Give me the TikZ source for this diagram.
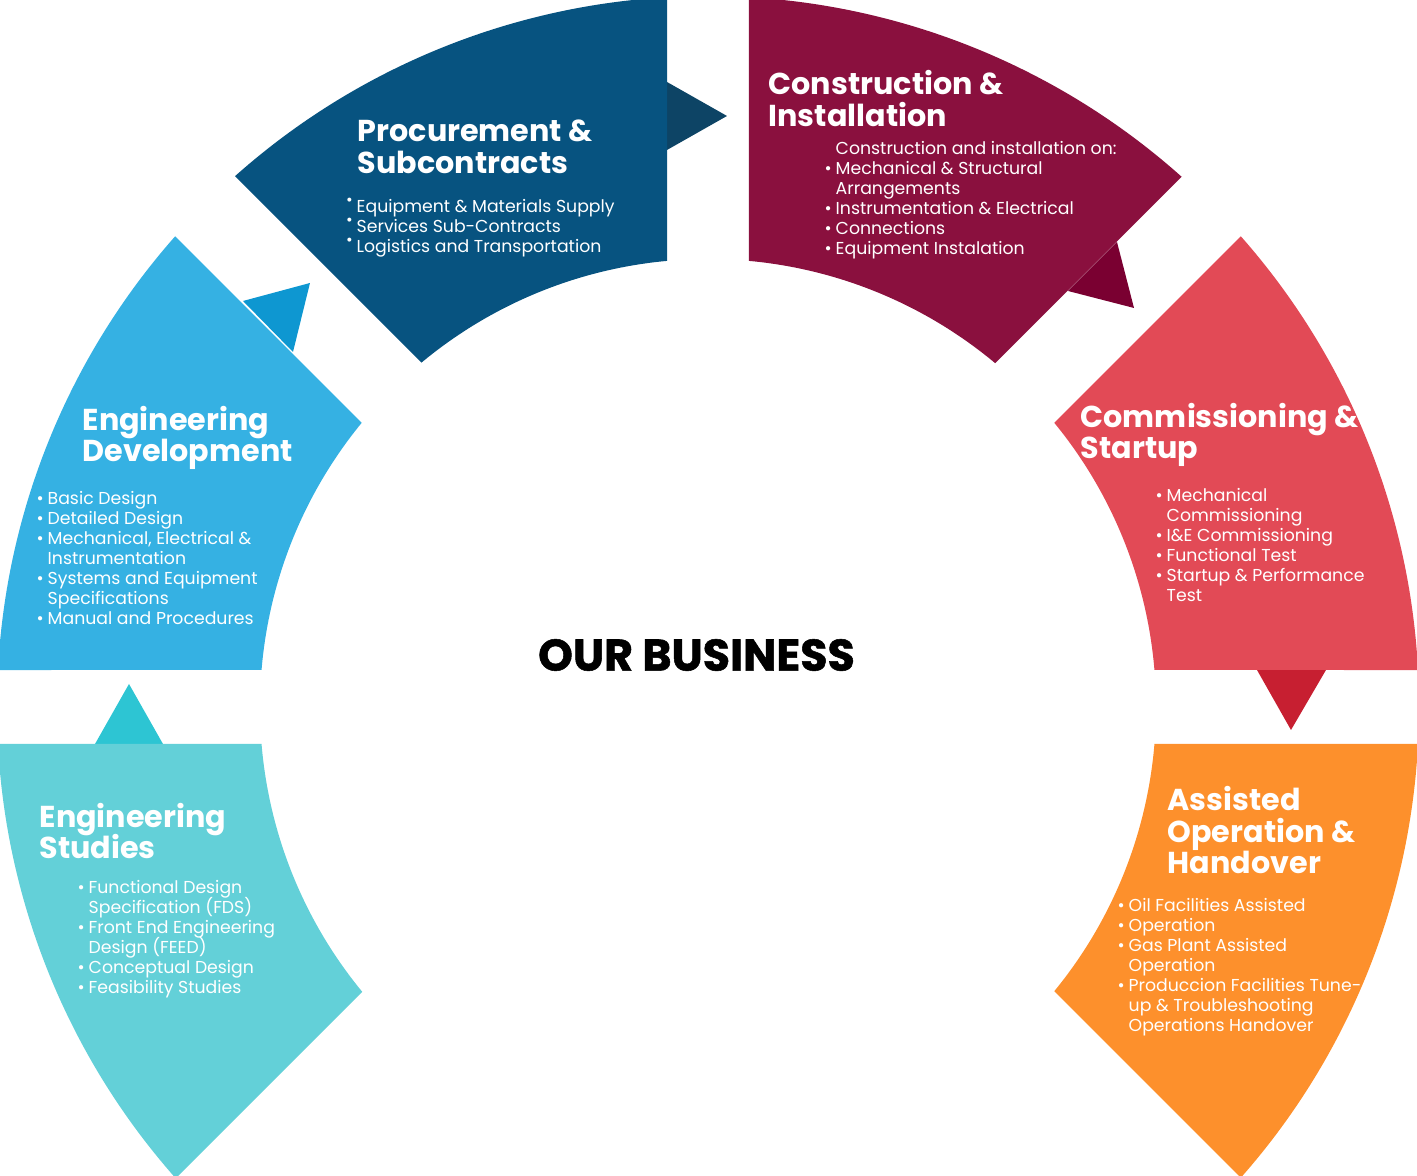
\documentclass[tikz,border=0pt]{standalone}
\usepackage{fontspec}
\setmainfont{Poppins}
\newfontfamily\heavyfont[BoldFeatures={FakeBold=1.2}]{Poppins}
\setlength{\lineskiplimit}{-100pt}
\setlength{\lineskip}{0pt}

% Farger
\definecolor{studies}{HTML}{63D0D8}
\definecolor{studiestip}{HTML}{2DC5D3}
\definecolor{development}{HTML}{35B1E3}
\definecolor{developmenttip}{HTML}{0E97D1}
\definecolor{procurement}{HTML}{075380}
\definecolor{procurementtip}{HTML}{0D4465}
\definecolor{construction}{HTML}{8A103E}
\definecolor{constructiontip}{HTML}{7A0031}
\definecolor{commissioning}{HTML}{E24A56}
\definecolor{commissioningtip}{HTML}{C71F31}
\definecolor{assisted}{HTML}{FD902C}

\newcommand{\Rout}{7.11}
\newcommand{\Rin}{4.48}
\newcommand{\bul}{\makebox[0pt][r]{\textbullet\hspace{0.04cm}}}
\newcommand{\rbul}{\makebox[0pt][r]{\raisebox{0.4em}{\fontsize{4.6}{4}\selectfont\textbullet}\hspace{0.04cm}}}

\tikzset{
	headline/.style={anchor=base west, align=left, text=white, inner sep=0pt,
		font=\bfseries\fontsize{8.6}{9.1}\selectfont},
	bullets/.style={anchor=base west, align=left, text=white, inner sep=0pt,
		font=\fontsize{4.92}{5.69}\selectfont},
}

\begin{document}
\begin{tikzpicture}
		\useasboundingbox (-7.08,-4.69) rectangle (7.09,7.07);

		% Piler mellom segmentene
		\fill[studiestip] (-6.13,-0.37) -- (-5.79,0.23) -- (-5.45,-0.37) -- cycle;
		\fill[developmenttip] (-4.65,4.06) -- (-3.98,4.24) -- (-4.15,3.55) -- cycle;
		\fill[procurementtip] (-0.41,6.25) -- (0.19,5.91) -- (-0.41,5.57) -- cycle;
		\fill[constructiontip] (4.09,4.65) -- (4.26,3.99) -- (3.60,4.16) -- cycle;
		\fill[commissioningtip] (6.18,0.37) -- (5.83,-0.23) -- (5.49,0.37) -- cycle;

		% Ringsegmenter
		\foreach \ta/\da/\tb/\db/\col in {-45/0.44/0/0.37/assisted, 0/0.37/45/0.44/commissioning,
			45/0.40/90/0.41/construction, 90/0.41/135/0.41/procurement,
			135/0.44/180/0.37/development, 180/0.37/225/0.43/studies}{
			\pgfmathsetmacro{\oa}{\ta+asin(\da/\Rout)}
			\pgfmathsetmacro{\ob}{\tb-asin(\db/\Rout)}
			\pgfmathsetmacro{\ia}{\ta+asin(\da/\Rin)}
			\pgfmathsetmacro{\ib}{\tb-asin(\db/\Rin)}
			\fill[\col] (\oa:\Rout) arc[start angle=\oa, end angle=\ob, radius=\Rout]
				-- (\ib:\Rin) arc[start angle=\ib, end angle=\ia, radius=\Rin] -- cycle;
		}

		% Midten
		\node[font=\heavyfont\bfseries\fontsize{12.6}{13}\selectfont, inner sep=0pt] (business) at (-0.115,0.52) {OUR BUSINESS};

		% Engineering Studies
		\node[headline] (studiestitle) at (-6.69,-1.52) {Engineering\\Studies};
		\node[bullets] (studieslist) at (-6.20,-2.865) {\bul Functional Design\\Specification (FDS)\\\bul Front End Engineering\\Design (FEED)\\\bul Conceptual Design\\\bul Feasibility Studies};

		% Engineering Development
		\node[headline] (devtitle) at (-6.26,2.45) {Engineering\\Development};
		\node[bullets] (devlist) at (-6.61,0.825) {\bul Basic Design\\\bul Detailed Design\\\bul Mechanical, Electrical \&\\Instrumentation\\\bul Systems and Equipment\\Specifications\\\bul Manual and Procedures};

		% Procurement & Subcontracts
		\node[headline] (proctitle) at (-3.51,5.33) {Procurement \&\\Subcontracts};
		\node[bullets] (proclist) at (-3.52,4.545) {\rbul Equipment \& Materials Supply\\\rbul Services Sub-Contracts\\\rbul Logistics and Transportation};

		% Construction & Installation
		\node[headline] (consttitle) at (0.60,5.80) {Construction \&\\Installation};
		\node[bullets] (constlist) at (1.27,4.525) {Construction and installation on:\\\bul Mechanical \& Structural\\Arrangements\\\bul Instrumentation \& Electrical\\\bul Connections\\\bul Equipment Instalation};

		% Commissioning & Startup
		\node[headline] (commtitle) at (3.72,2.48) {Commissioning \&\\Startup};
		\node[bullets] (commlist) at (4.58,1.055) {\bul Mechanical\\Commissioning\\\bul I\&E Commissioning\\\bul Functional Test\\\bul Startup \& Performance\\Test};

		% Assisted Operation & Handover
		\node[headline] (assisttitle) at (4.59,-1.67) {Assisted\\Operation \&\\Handover};
		\node[bullets] (assistlist) at (4.20,-3.245) {\bul Oil Facilities Assisted\\\bul Operation\\\bul Gas Plant Assisted\\Operation\\\bul Produccion Facilities Tune-\\up \& Troubleshooting\\Operations Handover};
	\end{tikzpicture}
\end{document}
